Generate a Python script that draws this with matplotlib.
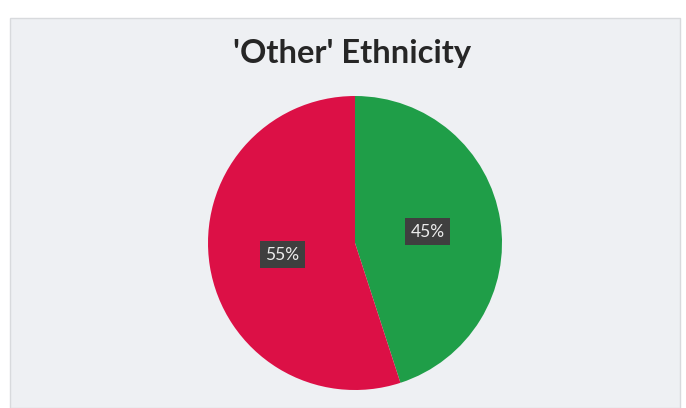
import matplotlib
matplotlib.use('Agg')
import matplotlib.pyplot as plt
from matplotlib.patches import Rectangle

labels = ['Other A', 'Other B']
shares = [45, 55]
colours = ['#1f9e48', '#dc1046']

fig = plt.figure(figsize=(6.86, 4.08), dpi=100)
fig.patch.set_facecolor('white')

# grey chart panel of the scanned slide
fig.patches.append(Rectangle((10 / 686, 0), 670 / 686, 390 / 408,
                             transform=fig.transFigure, facecolor='#eef0f3',
                             edgecolor='#d8dadd', linewidth=1.0, zorder=-1))

fig.text(352 / 686, 1 - 53 / 408, "'Other' Ethnicity", ha='center', va='center',
         fontsize=23.5, fontweight='bold', family='Lato', color='#262626')

ax = fig.add_axes([0.3032, 0.0441, 0.4286, 0.7206])
wedges, texts, autotexts = ax.pie(shares, colors=colours, startangle=90,
                                  counterclock=False, autopct='%d%%',
                                  pctdistance=0.5)
for t in autotexts:
    t.set_color('#ececec')
    t.set_fontsize(12.5)
    t.set_family('Lato')
    t.set_bbox(dict(facecolor='#3f3f3f', edgecolor='none', pad=4))
ax.set_xlim(-1, 1)
ax.set_ylim(-1, 1)
ax.set_aspect('equal')

fig.savefig('out.png', dpi=100)
